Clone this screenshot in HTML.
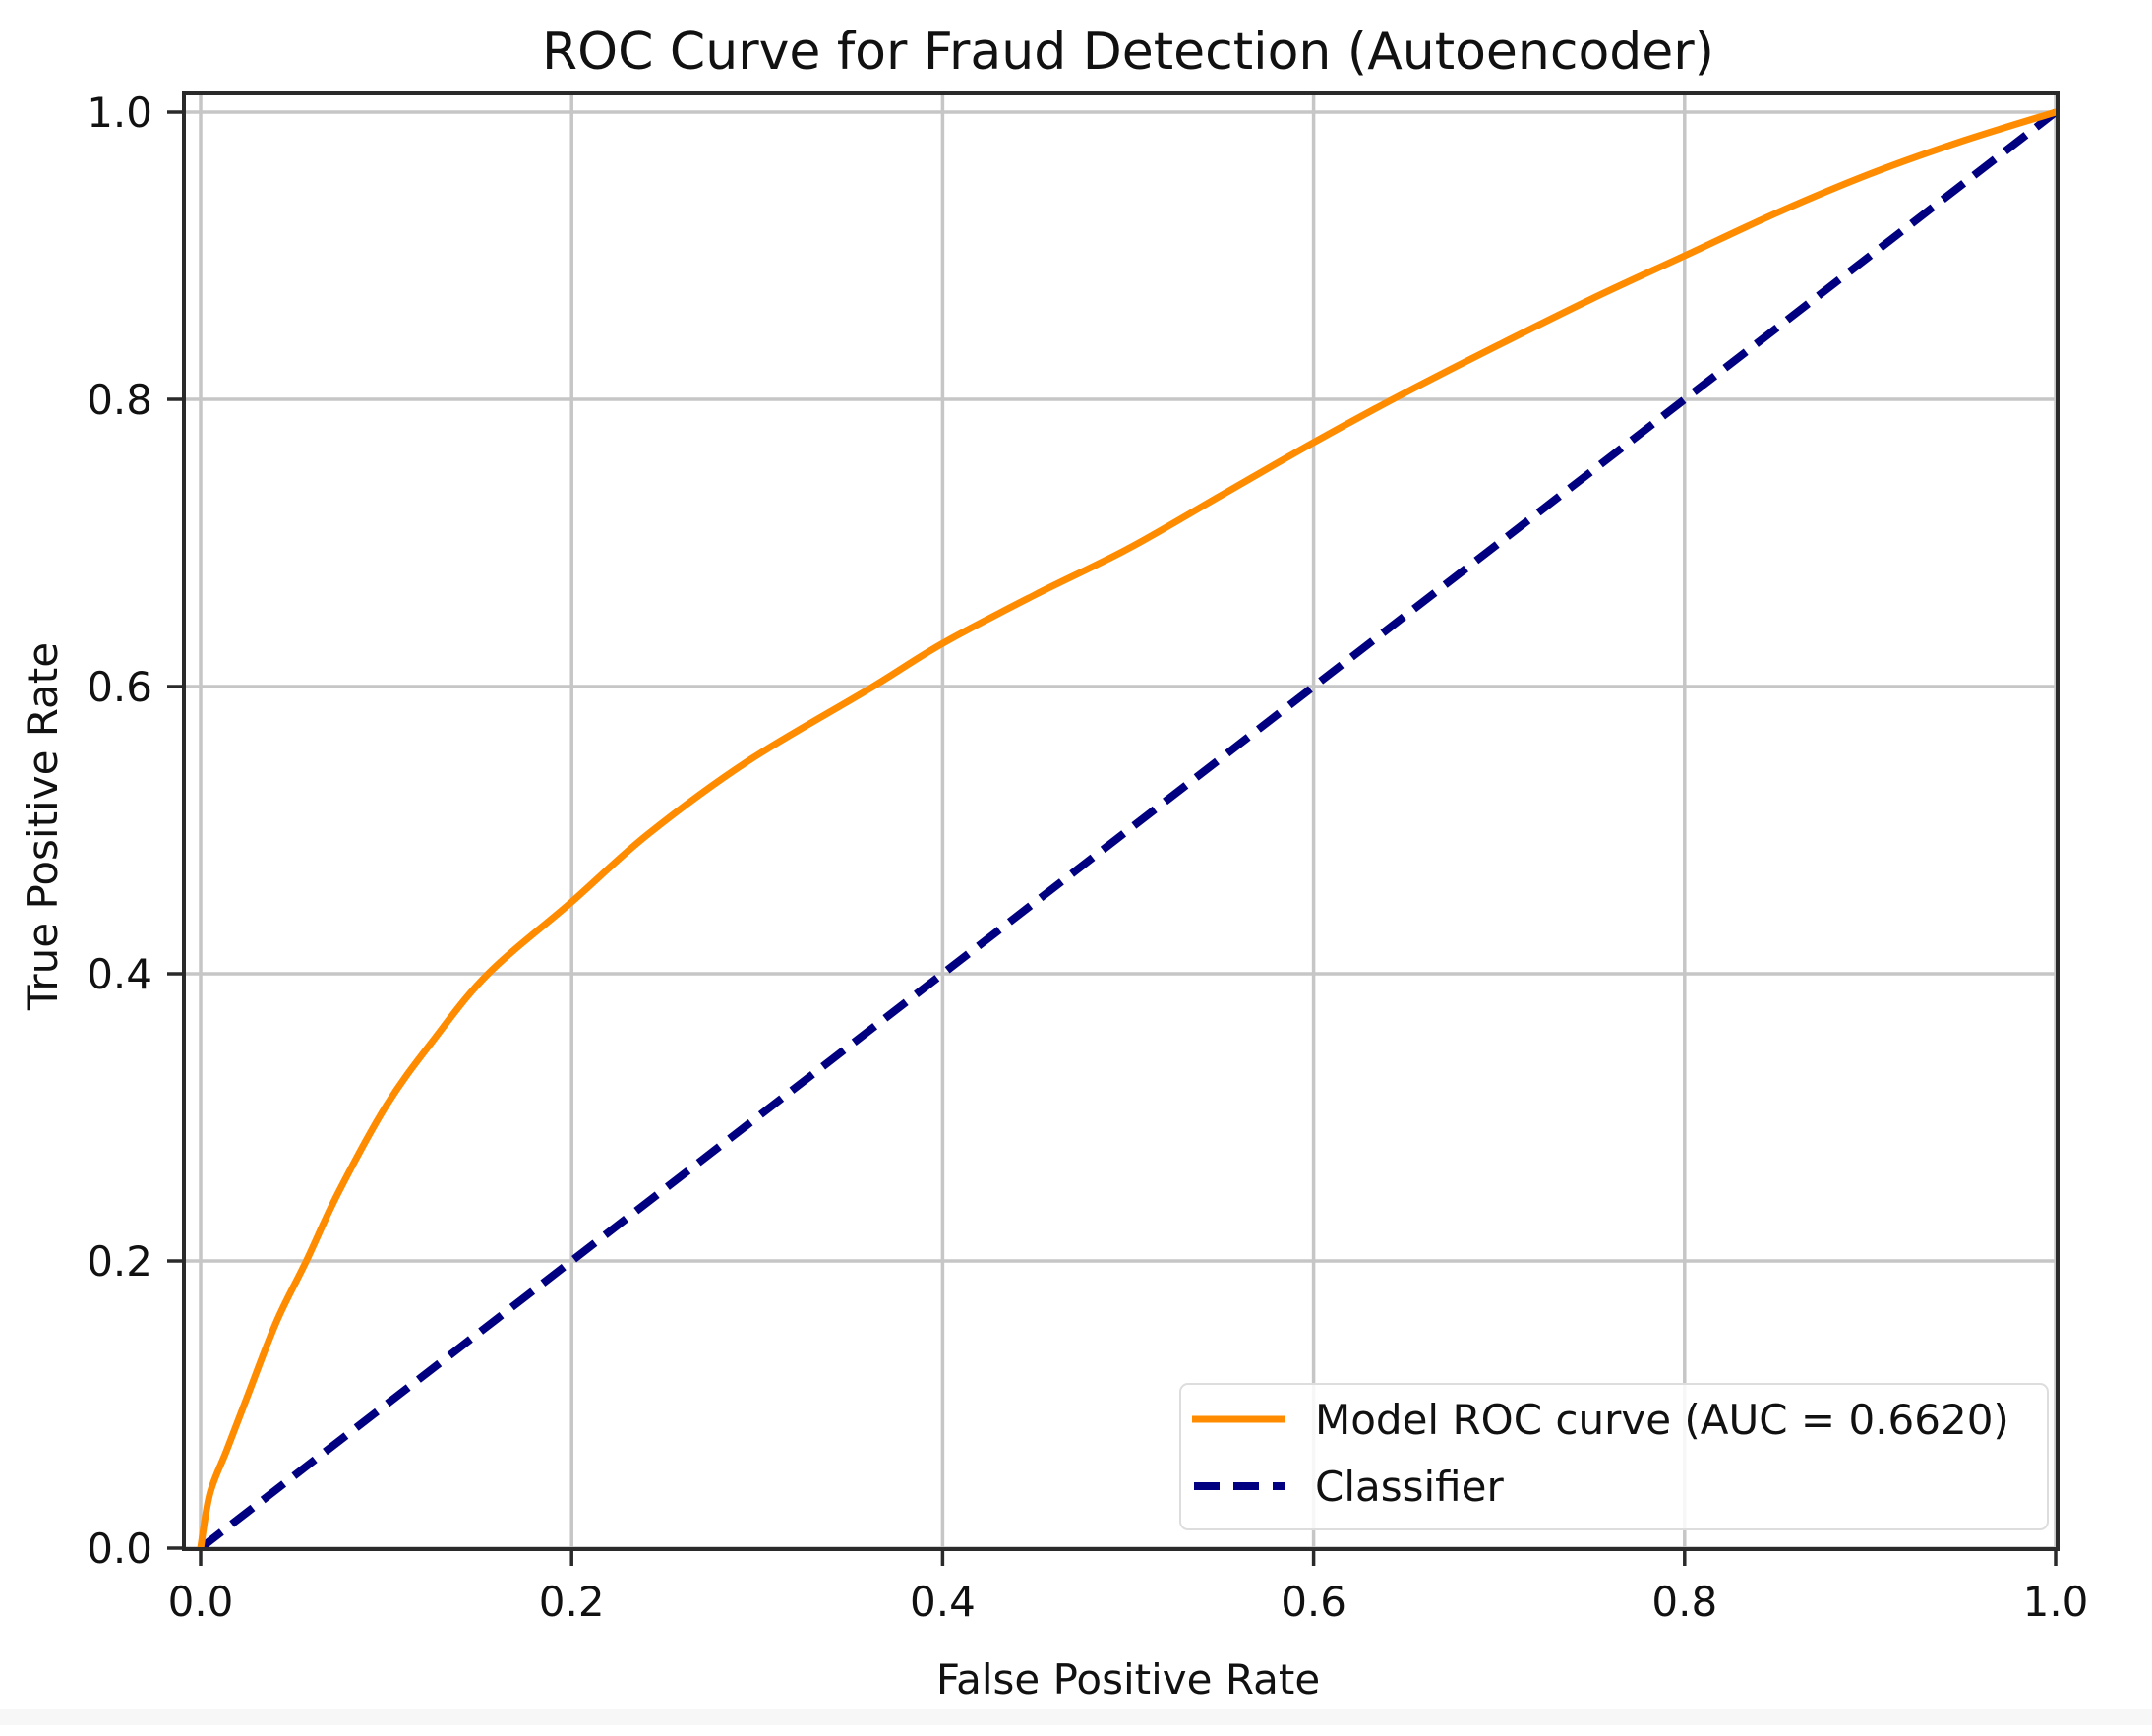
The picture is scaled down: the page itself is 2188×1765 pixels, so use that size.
<!DOCTYPE html>
<html><head><meta charset="utf-8"><style>
html,body{margin:0;padding:0;background:#fff;}
svg{display:block;font-family:"DejaVu Sans","Liberation Sans",sans-serif;}
</style></head><body>
<svg id="chart" width="2188" height="1765" viewBox="0 0 2188 1765">
<rect x="0" y="1738" width="2188" height="16" fill="#f7f7f7"/>
<g id="grid"></g>
<g id="series"></g>
<rect x="187" y="95" width="1905" height="1480" fill="none" stroke="#2a2a2a" stroke-width="4"/>
<g id="ticks"></g>
<text x="1147" y="70" text-anchor="middle" font-size="52" fill="#111">ROC Curve for Fraud Detection (Autoencoder)</text>
<text x="1147" y="1722" text-anchor="middle" font-size="42" fill="#111">False Positive Rate</text>
<text x="58" y="840" text-anchor="middle" font-size="42" fill="#111" transform="rotate(-90 58 840)">True Positive Rate</text>
<g>
<rect x="1200" y="1407" width="882" height="148" rx="8" fill="#fff" fill-opacity="0.85" stroke="#ddd" stroke-width="2"/>
<line x1="1212" y1="1443" x2="1306" y2="1443" stroke="#ff8c00" stroke-width="7"/>
<text x="1337" y="1458" font-size="42" fill="#111">Model ROC curve (AUC = 0.6620)</text>
<line x1="1214" y1="1511" x2="1306" y2="1511" stroke="#000080" stroke-width="8" stroke-dasharray="26 14"/>
<text x="1337" y="1526" font-size="42" fill="#111">Classifier</text>
</g>
</svg>
<script>
const fprValues = [0,0.005,0.014,0.025,0.041,0.057,0.074,0.10,0.125,0.155,0.20,0.241,0.295,0.36,0.40,0.45,0.50,0.55,0.60,0.65,0.70,0.75,0.80,0.85,0.90,0.95,1.0];
const tprValues = [0,0.038,0.068,0.105,0.158,0.20,0.247,0.308,0.353,0.40,0.45,0.497,0.548,0.598,0.63,0.664,0.696,0.733,0.77,0.805,0.838,0.87,0.90,0.93,0.957,0.98,1.0];
const classifierX = [0,1];
const classifierY = [0,1];
const xTicks = [0,0.2,0.4,0.6,0.8,1.0];
const yTicks = [0,0.2,0.4,0.6,0.8,1.0];
const xTickLabels = ["0.0","0.2","0.4","0.6","0.8","1.0"];
const yTickLabels = ["0.0","0.2","0.4","0.6","0.8","1.0"];

const NS="http://www.w3.org/2000/svg";
function sx(v){return 204+v*1886;}
function sy(v){return 1574-v*1460;}
function mk(tag,attrs,parent){const e=document.createElementNS(NS,tag);for(const k in attrs)e.setAttribute(k,attrs[k]);parent.appendChild(e);return e;}
function smoothPath(pts){
  let d='M'+pts[0][0]+','+pts[0][1];
  for(let i=0;i<pts.length-1;i++){
    const p0=pts[Math.max(0,i-1)],p1=pts[i],p2=pts[i+1],p3=pts[Math.min(pts.length-1,i+2)];
    const c1x=p1[0]+(p2[0]-p0[0])/6,c1y=p1[1]+(p2[1]-p0[1])/6;
    const c2x=p2[0]-(p3[0]-p1[0])/6,c2y=p2[1]-(p3[1]-p1[1])/6;
    d+=' C'+c1x+','+c1y+' '+c2x+','+c2y+' '+p2[0]+','+p2[1];
  }
  return d;
}
const grid=document.getElementById('grid'),ticks=document.getElementById('ticks'),series=document.getElementById('series');
xTicks.forEach((v,i)=>{
  const g=mk('line',{x1:sx(v),x2:sx(v),y1:95,y2:1575,stroke:'#c6c6c6','stroke-width':3.5},grid);
  
  
  const t=mk('line',{x1:sx(v),x2:sx(v),y1:1575,y2:1592,stroke:'#2a2a2a','stroke-width':3.5},ticks);
  
  
  const l=mk('text',{x:sx(v),y:1643,'text-anchor':'middle','font-size':42,fill:'#111'},ticks);
  l.textContent=xTickLabels[i];
  
  
});
yTicks.forEach((v,i)=>{
  const g=mk('line',{x1:187,x2:2092,y1:sy(v),y2:sy(v),stroke:'#c6c6c6','stroke-width':3.5},grid);
  
  
  const t=mk('line',{x1:170,x2:187,y1:sy(v),y2:sy(v),stroke:'#2a2a2a','stroke-width':3.5},ticks);
  
  
  const l=mk('text',{x:155,y:sy(v)+15,'text-anchor':'end','font-size':42,fill:'#111'},ticks);
  l.textContent=yTickLabels[i];
  
  
});
const cls=mk('polyline',{points:classifierX.map((x,i)=>sx(x)+','+sy(classifierY[i])).join(' '),fill:'none',stroke:'#000080','stroke-width':8,'stroke-dasharray':'27 13'},series);


const rocPts=fprValues.map((x,i)=>[sx(x),sy(tprValues[i])]);
const roc=mk('path',{d:smoothPath(rocPts),fill:'none',stroke:'#ff8c00','stroke-width':7,'stroke-linejoin':'round','stroke-linecap':'round'},series);


</script>
</body></html>
